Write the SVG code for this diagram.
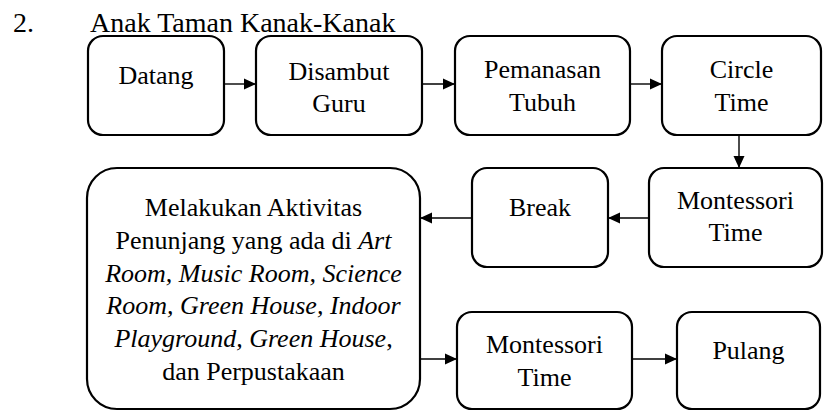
<svg xmlns="http://www.w3.org/2000/svg" width="828" height="412" viewBox="0 0 828 412">
<style>
.lbl{font-family:"Liberation Serif","Times New Roman",serif;font-size:26px;text-anchor:middle;fill:#000;}
.ttl{font-family:"Liberation Serif","Times New Roman",serif;font-size:28px;fill:#000;}
.box{fill:#fff;stroke:#000;stroke-width:2.2;}
.con{stroke:#000;stroke-width:1.4;fill:none;marker-end:url(#ah);}
.it{font-style:italic;}
</style>
<defs>
<marker id="ah" markerUnits="userSpaceOnUse" markerWidth="12" markerHeight="12" viewBox="0 0 12 12" refX="12" refY="6" orient="auto">
<path d="M0,0.5 L12,6 L0,11.5 Z" fill="#000"/>
</marker>
</defs>
<text class="ttl" x="13" y="32">2.</text>
<text class="ttl" x="90" y="32">Anak Taman Kanak-Kanak</text>
<g id="connectors">
<line class="con" x1="224" y1="84" x2="256" y2="84"/>
<line class="con" x1="422" y1="84" x2="455" y2="84"/>
<line class="con" x1="630" y1="84" x2="662" y2="84"/>
<line class="con" x1="739" y1="135" x2="739" y2="168"/>
<line class="con" x1="649" y1="218" x2="608" y2="218"/>
<line class="con" x1="472" y1="218" x2="420" y2="218"/>
<line class="con" x1="420" y1="359" x2="457" y2="359"/>
<line class="con" x1="632" y1="359" x2="677" y2="359"/>
</g>
<g id="datang">
<rect class="box" x="88" y="36" width="136" height="99" rx="15"/>
<text class="lbl" x="156" y="84">Datang</text>
</g>
<g id="disambut">
<rect class="box" x="256" y="36" width="166" height="99" rx="15"/>
<text class="lbl" x="339" y="80">Disambut</text>
<text class="lbl" x="339" y="112">Guru</text>
</g>
<g id="pemanasan">
<rect class="box" x="455" y="36" width="175" height="99" rx="15"/>
<text class="lbl" x="542.5" y="78">Pemanasan</text>
<text class="lbl" x="542.5" y="111">Tubuh</text>
</g>
<g id="circle">
<rect class="box" x="662" y="36" width="159" height="99" rx="15"/>
<text class="lbl" x="741.5" y="78">Circle</text>
<text class="lbl" x="741.5" y="111">Time</text>
</g>
<g id="montessori1">
<rect class="box" x="649" y="168" width="173" height="99" rx="15"/>
<text class="lbl" x="735.5" y="209">Montessori</text>
<text class="lbl" x="735.5" y="241">Time</text>
</g>
<g id="break">
<rect class="box" x="472" y="168" width="136" height="99" rx="15"/>
<text class="lbl" x="540" y="216">Break</text>
</g>
<g id="aktivitas">
<rect class="box" x="87" y="168" width="333" height="241" rx="30"/>
<text class="lbl" x="253.5" y="216">Melakukan Aktivitas</text>
<text class="lbl" x="253.5" y="249">Penunjang yang ada di <tspan class="it">Art</tspan></text>
<text class="lbl it" x="253.5" y="282">Room, Music Room, Science</text>
<text class="lbl it" x="253.5" y="314">Room, Green House, Indoor</text>
<text class="lbl" x="253.5" y="347"><tspan class="it">Playground, Green House</tspan>,</text>
<text class="lbl" x="253.5" y="380">dan Perpustakaan</text>
</g>
<g id="montessori2">
<rect class="box" x="457" y="312" width="175" height="97" rx="15"/>
<text class="lbl" x="544.5" y="353">Montessori</text>
<text class="lbl" x="544.5" y="386">Time</text>
</g>
<g id="pulang">
<rect class="box" x="677" y="312" width="143" height="97" rx="15"/>
<text class="lbl" x="748.5" y="359">Pulang</text>
</g>
</svg>
